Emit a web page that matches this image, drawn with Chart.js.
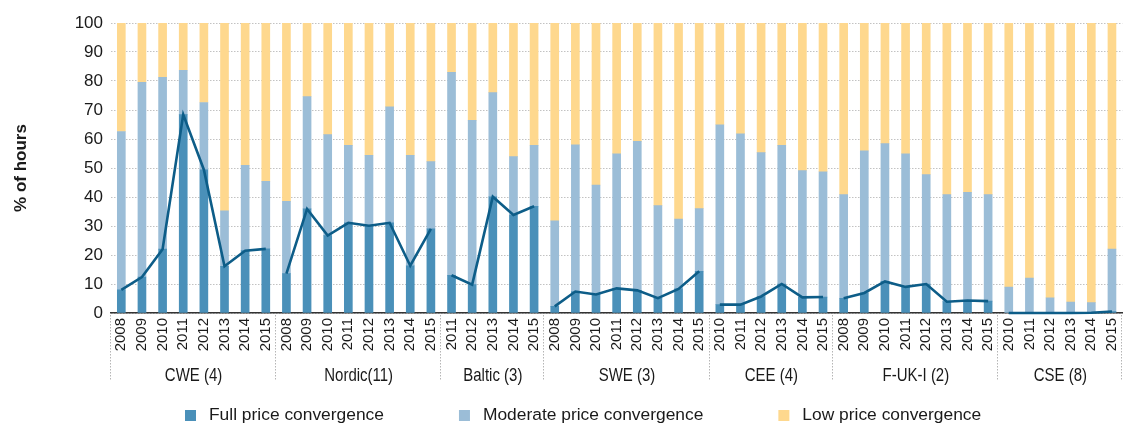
<!DOCTYPE html>
<html>
<head>
<meta charset="utf-8">
<script src="https://cdn.jsdelivr.net/npm/chart.js@4.4.1/dist/chart.umd.min.js"></script>
<style>
html,body{margin:0;padding:0;background:#fff;overflow:hidden;width:1126px;height:423px;}
#wrap{position:absolute;left:0;top:0;width:1135px;height:423px;}
</style>
</head>
<body>
<div id="wrap"><canvas id="c" width="1135" height="423"></canvas></div>
<script>
// ---- data ----
const categories = [
  '2008','2009','2010','2011','2012','2013','2014','2015',
  '2008','2009','2010','2011','2012','2013','2014','2015',
  '2011','2012','2013','2014','2015',
  '2008','2009','2010','2011','2012','2013','2014','2015',
  '2010','2011','2012','2013','2014','2015',
  '2008','2009','2010','2011','2012','2013','2014','2015',
  '2010','2011','2012','2013','2014','2015'
];
const groupNames = ['CWE (4)','Nordic(11)','Baltic (3)','SWE (3)','CEE (4)','F-UK-I (2)','CSE (8)'];
const groupSizes = [8, 8, 5, 8, 6, 8, 6];
const fullValues = [
  8.0, 12.4, 22.0, 68.4, 49.4, 16.1, 21.5, 22.1,
  13.6, 35.9, 26.7, 31.1, 30.1, 31.1, 16.3, 29.0,
  13.0, 9.8, 40.1, 33.8, 36.8,
  2.3, 7.4, 6.4, 8.5, 7.8, 5.1, 8.3, 14.4,
  2.9, 2.9, 5.7, 10.0, 5.4, 5.5,
  5.1, 6.9, 10.9, 9.0, 10.0, 3.9, 4.3, 4.1,
  0.0, 0.0, 0.0, 0.0, 0.1, 0.5
];
const moderateValues = [
  54.6, 67.1, 59.3, 15.3, 23.2, 19.1, 29.4, 23.3,
  24.9, 38.7, 34.8, 26.7, 24.3, 40.0, 38.1, 23.2,
  70.0, 56.6, 35.9, 20.1, 21.0,
  29.5, 50.6, 37.7, 46.4, 51.4, 31.9, 24.1, 21.6,
  62.0, 58.9, 49.6, 47.8, 43.7, 43.2,
  35.7, 49.0, 47.5, 45.9, 37.7, 36.9, 37.3, 36.7,
  8.9, 12.0, 5.2, 3.8, 3.5, 21.5
];
const lowValues = [
  37.4, 20.5, 18.7, 16.3, 27.4, 64.8, 49.1, 54.6,
  61.5, 25.4, 38.5, 42.2, 45.6, 28.9, 45.6, 47.8,
  17.0, 33.6, 24.0, 46.1, 42.2,
  68.2, 42.0, 55.9, 45.1, 40.8, 63.0, 67.6, 64.0,
  35.1, 38.2, 44.7, 42.2, 50.9, 51.3,
  59.2, 44.1, 41.6, 45.1, 52.3, 59.2, 58.4, 59.2,
  91.1, 88.0, 94.8, 96.2, 96.4, 78.0
];
const seriesNames = ['Full price convergence','Moderate price convergence','Low price convergence'];
const yTicks = [0,10,20,30,40,50,60,70,80,90,100];
const yTitle = '% of hours';

// ---- styles ----
const COL_FULL = '#4a90b9';
const COL_MOD = '#9bbdd7';
const COL_LOW = '#fed88e';
const COL_LINE = '#0d5d88';
const SANS = "'Liberation Sans',Arial,sans-serif";
const SQUEEZE = 0.81;

// line datasets: one per group (gaps between groups)
const lineSets = [];
let start = 0;
groupSizes.forEach((n, gi) => {
  const d = categories.map((_, i) => (i >= start && i < start + n) ? fullValues[i] : null);
  lineSets.push({
    type: 'line', label: 'line' + gi, data: d, borderColor: COL_LINE, backgroundColor: COL_LINE,
    borderWidth: 2.6, pointRadius: 0, tension: 0, spanGaps: false, stack: 'L' + gi, order: 0,
    clip: false
  });
  start += n;
});

function narrowText(ctx, text, x, y, align) {
  ctx.save();
  ctx.translate(x, y);
  ctx.scale(SQUEEZE, 1);
  ctx.textAlign = align;
  ctx.fillText(text, 0, 0);
  ctx.restore();
}

const decor = {
  id: 'decor',
  afterDraw(chart) {
    const ctx = chart.ctx;
    const xs = chart.scales.x;
    const area = chart.chartArea;
    const step = xs.getPixelForValue(1) - xs.getPixelForValue(0);
    ctx.save();
    let s = 0;
    const bounds = [];
    groupSizes.forEach(n => { bounds.push([s, s + n - 1]); s += n; });
    ctx.strokeStyle = '#b5b5b5';
    ctx.lineWidth = 1;
    ctx.setLineDash([1.5, 1.5]);
    const edges = [xs.getPixelForValue(0) - step / 2];
    bounds.forEach(b => edges.push(xs.getPixelForValue(b[1]) + step / 2));
    edges.forEach(x => {
      ctx.beginPath();
      ctx.moveTo(Math.round(x) - 0.5, area.bottom + 2);
      ctx.lineTo(Math.round(x) - 0.5, area.bottom + 68);
      ctx.stroke();
    });
    ctx.setLineDash([]);
    ctx.fillStyle = '#1a1a1a';
    ctx.font = '18.5px ' + SANS;
    ctx.textBaseline = 'alphabetic';
    bounds.forEach((b, gi) => {
      const cx = (xs.getPixelForValue(b[0]) + xs.getPixelForValue(b[1])) / 2;
      narrowText(ctx, groupNames[gi], cx, area.bottom + 68, 'center');
    });
    // legend
    const cols = [COL_FULL, COL_MOD, COL_LOW];
    ctx.font = '17.4px ' + SANS;
    ctx.textAlign = 'left';
    let lx = 185;
    seriesNames.forEach((name, i) => {
      ctx.fillStyle = cols[i];
      ctx.fillRect(lx, 410, 11, 11);
      ctx.fillStyle = '#1a1a1a';
      ctx.fillText(name, lx + 24, 419.5);
      lx += 24 + ctx.measureText(name).width + 75;
    });
    ctx.restore();
  }
};

new Chart(document.getElementById('c'), {
  type: 'bar',
  data: {
    labels: categories,
    datasets: [
      { label: seriesNames[0], data: fullValues, backgroundColor: COL_FULL, stack: 'S', order: 1, barThickness: 8 },
      { label: seriesNames[1], data: moderateValues, backgroundColor: COL_MOD, stack: 'S', order: 1, barThickness: 8 },
      { label: seriesNames[2], data: lowValues, backgroundColor: COL_LOW, stack: 'S', order: 1, barThickness: 8 },
      ...lineSets
    ]
  },
  options: {
    responsive: false,
    devicePixelRatio: 1,
    animation: false,
    layout: { padding: { top: 23, right: 4, left: 0, bottom: 0 } },
    plugins: { legend: { display: false }, tooltip: { enabled: false } },
    scales: {
      x: {
        stacked: true,
        offset: true,
        grid: { display: true, drawOnChartArea: false, drawTicks: false, color: 'rgba(0,0,0,0)' },
        border: { display: true, color: '#333', width: 1.5 },
        ticks: {
          autoSkip: false, maxRotation: 90, minRotation: 90, padding: 5,
          color: '#1a1a1a', font: { family: SANS, size: 15 }
        },
        afterFit(scale) { scale.height = 110; }
      },
      y: {
        stacked: true,
        min: 0, max: 100,
        afterBuildTicks(scale) { scale.ticks = yTicks.map(v => ({ value: v })); },
        grid: { color: '#c2c2c2', lineWidth: 1, drawTicks: false },
        border: { display: false, dash: [1.5, 1.5] },
        ticks: { padding: 8, color: '#1a1a1a', font: { family: SANS, size: 17 } },
        title: { display: true, text: yTitle, color: '#1a1a1a', font: { family: SANS, size: 17, weight: 'bold' }, padding: { top: 11, bottom: 0 } },
        afterFit(scale) { scale.width = 111; }
      }
    }
  },
  plugins: [decor]
});
</script>
</body>
</html>
